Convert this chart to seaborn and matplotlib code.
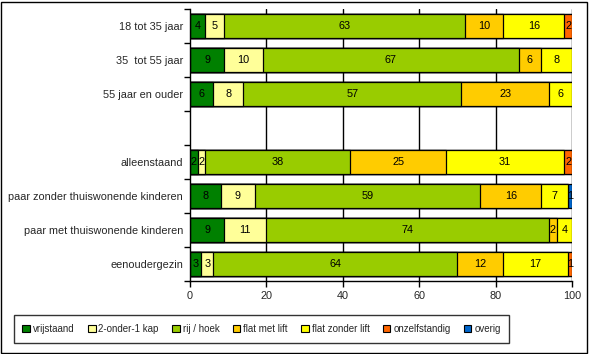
import matplotlib
matplotlib.use("Agg")
import matplotlib.pyplot as plt
import seaborn as sns
import numpy as np
import pandas as pd
from matplotlib.patches import Rectangle, Patch

categories = ["18 tot 35 jaar", "35  tot 55 jaar", "55 jaar en ouder", " ",
              "alleenstaand", "paar zonder thuiswonende kinderen",
              "paar met thuiswonende kinderen", "eenoudergezin"]
data_cats = ["18 tot 35 jaar", "35  tot 55 jaar", "55 jaar en ouder",
             "alleenstaand", "paar zonder thuiswonende kinderen",
             "paar met thuiswonende kinderen", "eenoudergezin"]
series = ["vrijstaand", "2-onder-1 kap", "rij / hoek", "flat met lift",
          "flat zonder lift", "onzelfstandig", "overig"]
vrijstaand = [4, 9, 6, 2, 8, 9, 3]
twee_onder_een = [5, 10, 8, 2, 9, 11, 3]
rij_hoek = [63, 67, 57, 38, 59, 74, 64]
flat_met_lift = [10, 6, 23, 25, 16, 2, 12]
flat_zonder_lift = [16, 8, 6, 31, 7, 4, 17]
onzelfstandig = [2, 0, 0, 2, 0, 0, 1]
overig = [0, 0, 0, 0, 1, 0, 0]
colors = ["#008000", "#FFFF99", "#99CC00", "#FFCC00", "#FFFF00", "#FF6600", "#0066CC"]

values = np.array([vrijstaand, twee_onder_een, rij_hoek, flat_met_lift,
                   flat_zonder_lift, onzelfstandig, overig], dtype=float)
cum = np.cumsum(values, axis=0)

sns.set_theme(style="white")
plt.rcParams["font.family"] = ["Liberation Sans", "DejaVu Sans"]

fig = plt.figure(figsize=(5.89, 3.54), dpi=100)
ax = fig.add_axes([190/589, 1-281/354, (572-190)/589, (281-9)/354])

# gridlines behind bars
for xv in [20, 40, 60, 80, 100]:
    ax.axvline(xv, color="black", lw=1, zorder=0)

for i in range(len(series) - 1, -1, -1):
    df = pd.DataFrame({"cat": data_cats, "val": cum[i]})
    sns.barplot(data=df, x="val", y="cat", order=categories, color=colors[i],
                saturation=1, edgecolor="black", linewidth=0.9, width=0.68,
                ax=ax, orient="h", zorder=2)

# labels
for j, cat in enumerate(data_cats):
    ypos = categories.index(cat)
    start = 0
    for i in range(len(series)):
        v = values[i, j]
        if v > 0:
            ax.text(start + v/2, ypos, f"{int(v)}", ha="center", va="center",
                    fontsize=7.8, color="black", zorder=5)
        start += v

ax.set_xlim(0, 100)
ax.set_ylim(len(categories) - 0.5, -0.5)
ax.set_xlabel("")
ax.set_ylabel("")
ax.set_xticks([0, 20, 40, 60, 80, 100])
ax.tick_params(axis="x", which="major", length=4, width=1, color="black",
               direction="out", labelsize=7.8, pad=3, bottom=True)
ax.tick_params(axis="y", which="major", length=0, labelsize=7.8, pad=5)
ax.set_yticks(np.arange(-0.5, len(categories), 1), minor=True)
ax.tick_params(axis="y", which="minor", length=4, width=1, color="black",
               direction="out", left=True)
for s in ["top", "right"]:
    ax.spines[s].set_visible(False)
for s in ["left", "bottom"]:
    ax.spines[s].set_visible(True)
    ax.spines[s].set_color("black")
    ax.spines[s].set_linewidth(1)
ax.set_facecolor("white")
ax.grid(False)

handles = [Patch(facecolor=c, edgecolor="black", linewidth=0.8) for c in colors]
leg = fig.legend(handles, series, loc="center", ncol=7,
                 bbox_to_anchor=(261.5/589, 1-329/354), frameon=True,
                 fontsize=7.0, handlelength=0.8, handleheight=0.8,
                 handletextpad=0.3, columnspacing=1.35, borderpad=0.9,
                 fancybox=False)
leg.get_frame().set_edgecolor("black")
leg.get_frame().set_linewidth(1)

fig.patches.append(Rectangle((1/589, 1/354), 586/589, 351/354, fill=False,
                             edgecolor="black", linewidth=1,
                             transform=fig.transFigure, figure=fig))

fig.savefig("out.png", dpi=100)
